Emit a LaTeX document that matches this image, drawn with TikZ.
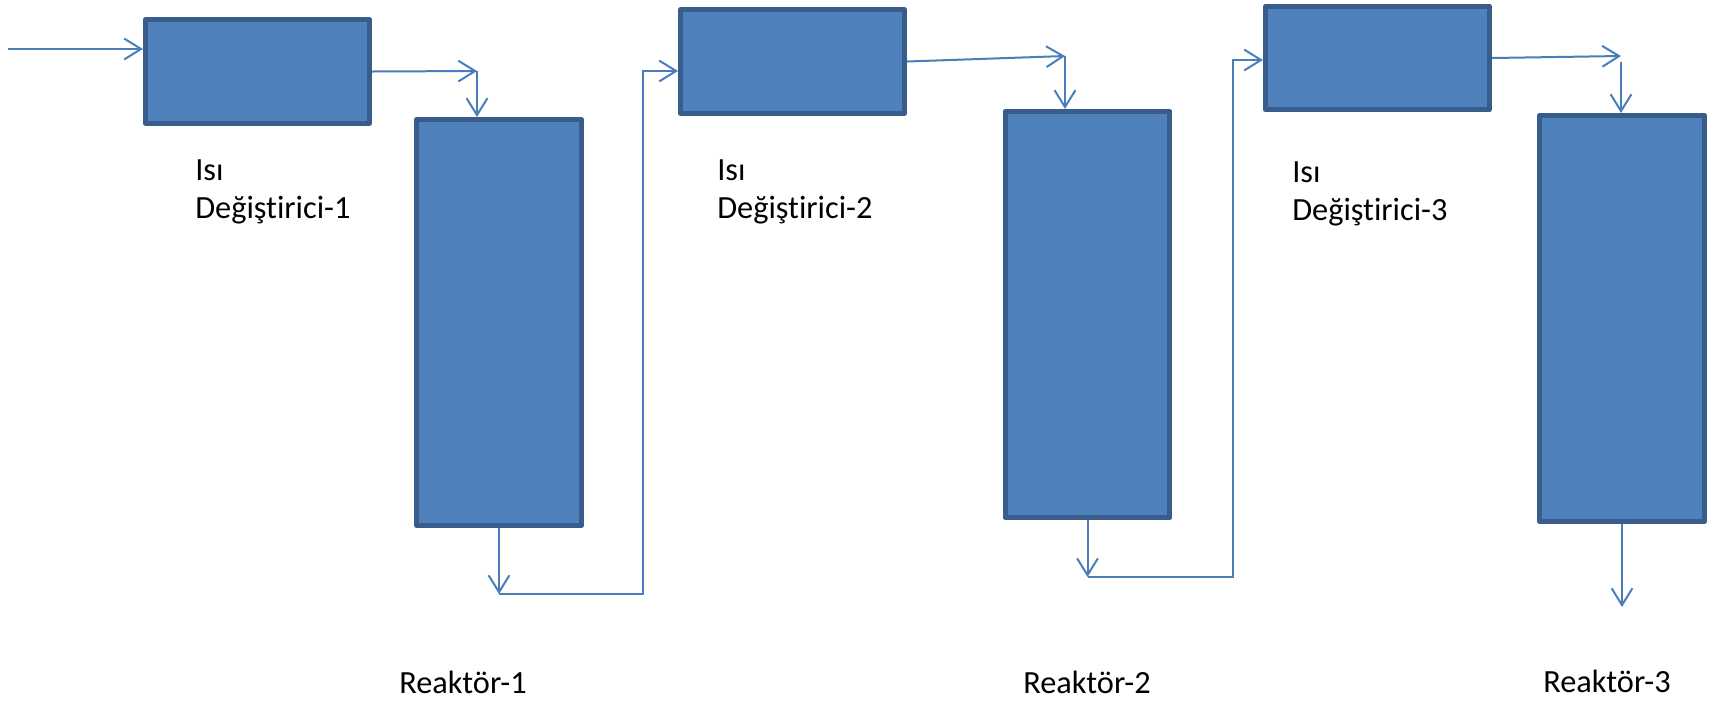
\documentclass[tikz,border=0pt]{standalone}
\usepackage{fontspec}
\setmainfont[Ligatures=NoCommon]{Carlito}
\usetikzlibrary{arrows.meta,positioning}

\definecolor{unitfill}{HTML}{4F81BD}
\definecolor{unitedge}{HTML}{385D8A}
\definecolor{pipe}{HTML}{4A7EBB}

\begin{document}
\begin{tikzpicture}[x=0.025cm, y=-0.025cm,
  unit/.style={draw=unitedge, fill=unitfill, line width=0.125cm, line join=round, inner sep=0pt},
  hx/.style={unit, minimum width=5.6cm, minimum height=2.58cm},
  reactor/.style={unit, minimum width=4.12cm, minimum height=10.15cm},
  lab/.style={inner sep=0pt, font=\fontsize{23pt}{27pt}\selectfont, align=left},
  flow/.style={draw=pipe, line width=0.05cm, -{Straight Barb[length=0.42cm, width=0.52cm, line width=0.05cm]}}]
  \useasboundingbox (0,0) rectangle (1719,700);
  % heat exchangers and reactors
  \node[hx] (hx1) at (257.5,71.5) {};
  \node[reactor] (r1) at (499,322.5) {};
  \node[hx] (hx2) at (792.5,61.5) {};
  \node[reactor] (r2) at (1087.5,314.5) {};
  \node[hx] (hx3) at (1377.5,58) {};
  \node[reactor] (r3) at (1622,318.5) {};
  % labels (base = last line)
  \node[lab, anchor=base west] (l1) at (195,218) {Isı\\Değiştirici-1};
  \node[lab, anchor=base west] (l2) at (717,218) {Isı\\Değiştirici-2};
  \node[lab, anchor=base west] (l3) at (1292,220) {Isı\\Değiştirici-3};
  \node[lab, anchor=base west] (n1) at (399,693) {Reaktör-1};
  \node[lab, anchor=base west] (n2) at (1023,693) {Reaktör-2};
  \node[lab, anchor=base west] (n3) at (1543,692) {Reaktör-3};
  % bends of the piping
  \coordinate (feed) at (8,49);
  \coordinate (j1) at (477,71);
  \coordinate (b1) at (499,594);
  \coordinate (c1) at (643,71);
  \coordinate (j2) at (1065,56);
  \coordinate (b2) at (1087.5,577);
  \coordinate (c2) at (1233,60);
  \coordinate (j3) at (1621,56);
  \coordinate (out) at (1622,607);
  % piping
  \draw[flow] (feed) -- (feed -| hx1.west);
  \draw[flow] (hx1.east) -- (j1);
  \draw[flow] (j1) -- (j1 |- r1.north);
  \draw[flow] (r1.south) -- (b1);
  \draw[flow] (b1) -- (b1 -| c1) -- (c1) -- (c1 -| hx2.west);
  \draw[flow] (hx2.east) -- (j2);
  \draw[flow] (j2) -- (j2 |- r2.north);
  \draw[flow] (r2.south) -- (b2);
  \draw[flow] (b2) -- (b2 -| c2) -- (c2) -- (c2 -| hx3.west);
  \draw[flow] (hx3.east) -- (j3);
  \draw[flow] ([yshift=-0.15cm]j3) -- (j3 |- r3.north);
  \draw[flow] (r3.south) -- (out);
\end{tikzpicture}
\end{document}
